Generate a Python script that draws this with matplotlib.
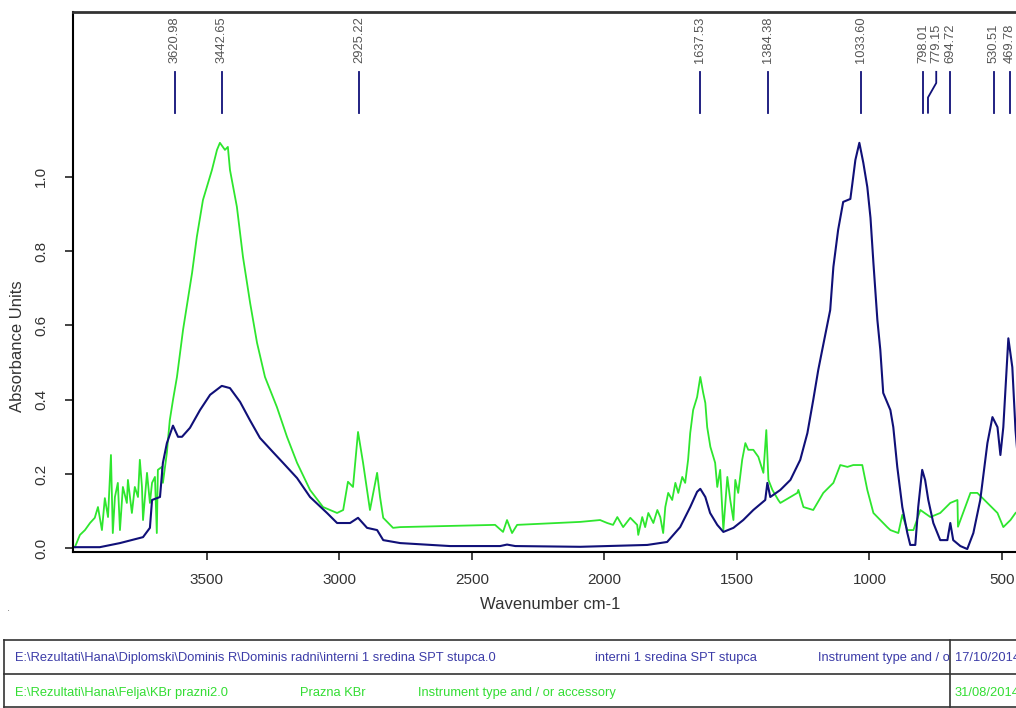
import numpy as np
import matplotlib
matplotlib.use("Agg")
import matplotlib.pyplot as plt
from matplotlib.lines import Line2D
from matplotlib.patches import Rectangle

plt.rcParams['font.family'] = ['Liberation Sans', 'DejaVu Sans']

# sample spectrum (blue) - wavenumber cm-1 / absorbance
blue_wn = [4000, 3903, 3827, 3740, 3714, 3706, 3676, 3665, 3650, 3627, 3608, 3593,
           3563, 3525, 3487, 3443, 3412, 3374, 3337, 3299, 3250, 3212, 3159, 3110,
           3046, 3008, 2959, 2929, 2895, 2857, 2834, 2770, 2582, 2393, 2367, 2336,
           2091, 1838, 1763, 1714, 1676, 1650, 1638, 1619, 1601, 1574, 1551, 1513,
           1476, 1438, 1393, 1385, 1374, 1336, 1298, 1261, 1234, 1212, 1193, 1178,
           1148, 1136, 1118, 1099, 1072, 1065, 1053, 1038, 1023, 1008, 996, 985,
           970, 959, 948, 921, 910, 895, 876, 857, 846, 827, 816, 801, 790, 778,
           759, 733, 706, 695, 684, 657, 631, 608, 582, 555, 536, 517, 506, 495,
           476, 461, 449, 440, 420]
blue_abs = [0.003, 0.003, 0.014, 0.030, 0.055, 0.130, 0.138, 0.230, 0.283, 0.330, 0.300, 0.300,
            0.324, 0.372, 0.413, 0.437, 0.431, 0.394, 0.345, 0.297, 0.259, 0.230, 0.189, 0.138,
            0.095, 0.068, 0.068, 0.082, 0.055, 0.049, 0.022, 0.014, 0.006, 0.006, 0.010, 0.006,
            0.004, 0.009, 0.017, 0.057, 0.111, 0.152, 0.160, 0.138, 0.095, 0.063, 0.044, 0.055,
            0.076, 0.103, 0.130, 0.176, 0.138, 0.157, 0.184, 0.238, 0.310, 0.399, 0.480, 0.534,
            0.641, 0.757, 0.857, 0.932, 0.940, 0.978, 1.045, 1.091, 1.037, 0.972, 0.889, 0.768,
            0.614, 0.534, 0.418, 0.372, 0.326, 0.219, 0.111, 0.041, 0.009, 0.009, 0.111, 0.211,
            0.184, 0.130, 0.068, 0.022, 0.022, 0.068, 0.022, 0.006, -0.002, 0.041, 0.130, 0.283,
            0.353, 0.326, 0.251, 0.326, 0.565, 0.487, 0.318, 0.240, 0.200]

# blank KBr spectrum (green)
green_wn = [3997, 3978, 3959, 3940, 3922, 3910, 3895, 3884, 3872, 3861, 3854, 3846,
            3835, 3827, 3816, 3801, 3797, 3782, 3771, 3759, 3752, 3744, 3740, 3725,
            3714, 3706, 3695, 3688, 3684, 3669, 3665, 3650, 3646, 3639, 3627, 3612,
            3589, 3555, 3537, 3514, 3480, 3461, 3450, 3431, 3420, 3412, 3386, 3363,
            3336, 3310, 3280, 3235, 3197, 3159, 3110, 3061, 3008, 2985, 2967, 2948,
            2929, 2910, 2884, 2857, 2846, 2834, 2797, 2770, 2582, 2412, 2382, 2367,
            2348, 2329, 2091, 2016, 1989, 1967, 1951, 1929, 1902, 1876, 1872, 1857,
            1846, 1834, 1815, 1800, 1789, 1778, 1770, 1759, 1744, 1732, 1721, 1706,
            1695, 1684, 1676, 1665, 1650, 1638, 1627, 1619, 1612, 1600, 1582, 1574,
            1563, 1551, 1536, 1525, 1513, 1506, 1495, 1480, 1468, 1457, 1438, 1419,
            1400, 1389, 1381, 1366, 1344, 1336, 1272, 1268, 1249, 1212, 1174, 1136,
            1110, 1083, 1061, 1027, 1008, 985, 959, 933, 921, 891, 876, 857,
            834, 808, 770, 733, 695, 668, 666, 619, 593, 555, 517, 495,
            468, 449, 420]
green_abs = [0.003, 0.036, 0.049, 0.068, 0.082, 0.111, 0.049, 0.135, 0.084, 0.251, 0.041, 0.138,
             0.176, 0.049, 0.165, 0.122, 0.184, 0.095, 0.165, 0.138, 0.238, 0.165, 0.076, 0.203,
             0.122, 0.176, 0.192, 0.041, 0.211, 0.219, 0.176, 0.257, 0.291, 0.345, 0.399, 0.461,
             0.588, 0.741, 0.838, 0.937, 1.018, 1.072, 1.091, 1.072, 1.080, 1.018, 0.919, 0.784,
             0.660, 0.553, 0.461, 0.380, 0.300, 0.230, 0.157, 0.111, 0.095, 0.103, 0.179, 0.165,
             0.313, 0.230, 0.103, 0.203, 0.138, 0.082, 0.055, 0.057, 0.060, 0.063, 0.044, 0.076,
             0.041, 0.063, 0.071, 0.076, 0.068, 0.063, 0.084, 0.057, 0.082, 0.063, 0.036, 0.084,
             0.057, 0.095, 0.068, 0.103, 0.084, 0.041, 0.111, 0.149, 0.130, 0.176, 0.149, 0.192,
             0.176, 0.238, 0.310, 0.372, 0.407, 0.461, 0.418, 0.391, 0.326, 0.273, 0.230, 0.165,
             0.211, 0.049, 0.192, 0.130, 0.076, 0.184, 0.149, 0.238, 0.283, 0.265, 0.265, 0.246,
             0.203, 0.318, 0.184, 0.157, 0.130, 0.122, 0.149, 0.157, 0.111, 0.103, 0.149, 0.176,
             0.224, 0.219, 0.224, 0.224, 0.157, 0.095, 0.076, 0.057, 0.049, 0.041, 0.090, 0.049,
             0.049, 0.103, 0.084, 0.095, 0.122, 0.130, 0.058, 0.149, 0.149, 0.122, 0.095, 0.057,
             0.076, 0.095, 0.110]

# peak picks
peaks = [3620.98, 3442.65, 2925.22, 1637.53, 1384.38, 1033.60, 798.01, 779.15, 694.72, 530.51, 469.78]
peak_lbl_pos = [3620.98, 3442.65, 2925.22, 1637.53, 1384.38, 1033.60, 798.01, 748.0, 694.72, 530.51, 469.78]

row1 = ["E:\\Rezultati\\Hana\\Diplomski\\Dominis R\\Dominis radni\\interni 1 sredina SPT stupca.0",
        "interni 1 sredina SPT stupca", "Instrument type and / or accessory", "17/10/2014"]
row2 = ["E:\\Rezultati\\Hana\\Felja\\KBr prazni2.0", "Prazna KBr",
        "Instrument type and / or accessory", "31/08/2014"]

W, H = 1016, 708
fig = plt.figure(figsize=(W / 100, H / 100), dpi=100)
ax = fig.add_axes([73.3 / W, 1 - 552.3 / H, 955.2 / W, 540.3 / H])

navy = '#101078'
green = '#2ee62e'
ax.plot(green_wn, green_abs, color=green, lw=1.3)
ax.plot(blue_wn, blue_abs, color=navy, lw=1.5)

ax.set_xlim(4003, 400)
ax.set_ylim(-0.0108, 1.443)
ax.set_xticks([3500, 3000, 2500, 2000, 1500, 1000, 500])
ax.set_yticks([0.0, 0.2, 0.4, 0.6, 0.8, 1.0])
ax.set_yticklabels(['0.0', '0.2', '0.4', '0.6', '0.8', '1.0'], rotation=90, va='center')
ax.tick_params(axis='both', direction='out', length=6, width=1.2, labelsize=11,
               colors='#222222', labelcolor='#333333')
ax.tick_params(axis='y', pad=12)
ax.tick_params(axis='x', pad=9)
ax.spines['right'].set_visible(False)
ax.spines['top'].set_color('#333333')
ax.spines['top'].set_linewidth(2)
ax.spines['left'].set_linewidth(1.5)
ax.spines['bottom'].set_linewidth(1.5)

ax.set_xlabel('Wavenumber cm-1', fontsize=12, color='#333333')
ax.set_ylabel('Absorbance Units', fontsize=12, color='#333333')
ax.xaxis.set_label_coords(0.499, -0.083)
ax.yaxis.set_label_coords(-0.0506, 0.382)

# peak markers
for p, lp in zip(peaks, peak_lbl_pos):
    if p == lp:
        ax.plot([p, p], [1.172, 1.282], color=navy, lw=1.3, clip_on=False)
    else:
        ax.plot([p, p, lp, lp], [1.172, 1.213, 1.252, 1.282], color=navy, lw=1.3, clip_on=False)
    ax.text(lp, 1.305, '%.2f' % p, rotation=90, ha='center', va='bottom',
            fontsize=9.3, color='#555555')

# file info table below the plot
fy = lambda y: 1 - y / H
fx = lambda x: x / W
# white cover so the long row-1 text is cut at the date column
fig.add_artist(Rectangle((fx(949), fy(673)), 1 - fx(949), fy(641) - fy(673),
                         transform=fig.transFigure, facecolor='white', edgecolor='none', zorder=3.5))
for y in (640, 674, 707):
    fig.add_artist(Line2D([fx(4), 1.0], [fy(y), fy(y)], color='#333333', lw=1.2, zorder=5))
fig.add_artist(Line2D([fx(4), fx(4)], [fy(640), fy(707)], color='#333333', lw=1.2, zorder=5))
fig.add_artist(Line2D([fx(950), fx(950)], [fy(640), fy(707)], color='#333333', lw=1.2, zorder=5))

for txt, x in zip(row1, [15, 595, 818, 955]):
    fig.text(fx(x), fy(658), txt, fontsize=9.3, color='#3c3ca8', va='center',
             zorder=4 if x == 955 else 3)
for txt, x in zip(row2, [15, 300, 418, 955]):
    fig.text(fx(x), fy(693), txt, fontsize=9.3, color='#33dd33', va='center')

fig.text(fx(7), fy(608), '.', fontsize=8, color='#777777', va='center')

fig.savefig('out.png', dpi=100)
